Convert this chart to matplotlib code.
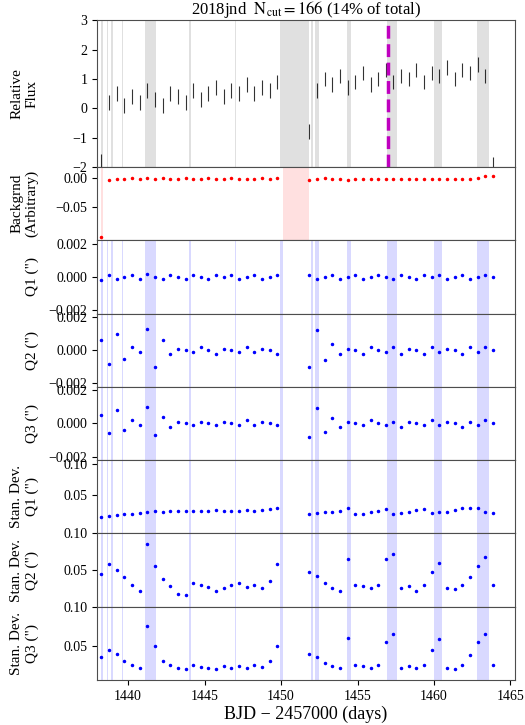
import numpy as np
import matplotlib
matplotlib.use("Agg")
import matplotlib.pyplot as plt

plt.rcParams['font.family'] = ['Liberation Serif', 'DejaVu Serif']
plt.rcParams['mathtext.fontset'] = 'stix'
plt.rcParams['font.size'] = 11

# times, half-day steps in each orbit
t1 = np.arange(1438.25, 1450.01, 0.5)
t2 = np.arange(1451.85, 1463.9, 0.5)

flux1 = [-1.8, 0.2, 0.5, 0.1, 0.4, 0.2, 0.6, 0.3, 0.1, 0.5, 0.4, 0.2,
         0.6, 0.3, 0.5, 0.7, 0.4, 0.6, 0.5, 0.8, 0.5, 0.7, 0.6, 0.9]
flux2 = [-0.8, 0.6, 1.0, 0.8, 1.1, 0.7, 0.9, 1.2, 0.8, 1.0, 1.3, 0.9,
         1.1, 1.0, 1.3, 0.9, 1.2, 1.1, 1.4, 1.0, 1.3, 1.2, 1.5, 1.1, -1.9]
bkg1 = [-0.100, -0.004, -0.002, -0.003, -0.001, -0.002, 0.000, -0.002, -0.001, -0.003, -0.002, -0.001,
        -0.002, -0.003, -0.001, -0.002, -0.003, -0.001, -0.002, -0.003, -0.002, -0.001, -0.002, -0.001]
bkg2 = [-0.004, -0.002, -0.001, -0.003, -0.002, -0.004, -0.003, -0.002, -0.003, -0.002, -0.003, -0.002,
        -0.003, -0.002, -0.003, -0.002, -0.003, -0.002, -0.003, -0.002, -0.003, -0.002, -0.001, 0.002, 0.003]
q1_1 = [-0.0002, 0.0001, -0.0001, 0.0000, 0.0001, -0.0001, 0.0002, 0.0000, -0.0001, 0.0001, 0.0000, -0.0001,
        0.0001, 0.0000, -0.0001, 0.0001, 0.0000, 0.0001, -0.0001, 0.0000, 0.0001, -0.0001, 0.0000, 0.0001]
q1_2 = [0.0001, -0.0001, 0.0000, 0.0001, -0.0001, 0.0000, 0.0001, -0.0001, 0.0000, 0.0001, 0.0000, -0.0001,
        0.0001, 0.0000, -0.0001, 0.0001, 0.0000, 0.0001, -0.0001, 0.0000, 0.0001, -0.0001, 0.0000, 0.0001, 0.0000]
q2_1 = [0.0006, -0.0008, 0.0010, -0.0005, 0.0002, -0.0001, 0.0013, -0.0010, 0.0006, -0.0002, 0.0001, 0.0000,
        -0.0001, 0.0002, 0.0000, -0.0002, 0.0001, 0.0000, -0.0001, 0.0002, -0.0001, 0.0001, 0.0000, -0.0002]
q2_2 = [-0.0010, 0.0012, -0.0006, 0.0004, -0.0002, 0.0001, 0.0000, -0.0002, 0.0002, 0.0000, -0.0001, 0.0002,
        -0.0002, 0.0001, 0.0000, -0.0002, 0.0002, -0.0001, 0.0001, 0.0000, -0.0002, 0.0002, -0.0001, 0.0002, 0.0000]
q3_1 = [0.0005, -0.0006, 0.0008, -0.0004, 0.0002, -0.0001, 0.0010, -0.0007, 0.0004, -0.0002, 0.0001, 0.0000,
        -0.0001, 0.0001, 0.0000, -0.0001, 0.0001, 0.0000, -0.0001, 0.0002, -0.0001, 0.0001, 0.0000, -0.0001]
q3_2 = [-0.0008, 0.0009, -0.0005, 0.0003, -0.0002, 0.0001, 0.0000, -0.0001, 0.0002, 0.0000, -0.0001, 0.0001,
        -0.0002, 0.0001, 0.0000, -0.0001, 0.0002, -0.0001, 0.0001, 0.0000, -0.0002, 0.0001, -0.0001, 0.0002, 0.0000]
sd1_1 = [0.014, 0.016, 0.017, 0.018, 0.019, 0.020, 0.022, 0.023, 0.022, 0.023, 0.024, 0.023,
         0.024, 0.023, 0.024, 0.025, 0.024, 0.023, 0.024, 0.025, 0.024, 0.025, 0.026, 0.029]
sd1_2 = [0.018, 0.020, 0.021, 0.022, 0.023, 0.028, 0.018, 0.019, 0.021, 0.024, 0.027, 0.019,
         0.020, 0.022, 0.025, 0.027, 0.020, 0.021, 0.022, 0.025, 0.028, 0.029, 0.028, 0.022, 0.020]
sd2_1 = [0.045, 0.058, 0.050, 0.040, 0.030, 0.022, 0.085, 0.055, 0.038, 0.028, 0.018, 0.016,
         0.032, 0.030, 0.027, 0.022, 0.025, 0.030, 0.032, 0.027, 0.030, 0.026, 0.035, 0.058]
sd2_2 = [0.048, 0.042, 0.032, 0.026, 0.022, 0.065, 0.030, 0.028, 0.025, 0.030, 0.065, 0.072,
         0.025, 0.028, 0.022, 0.030, 0.048, 0.060, 0.026, 0.024, 0.030, 0.040, 0.055, 0.068, 0.030]
sd3_1 = [0.035, 0.045, 0.040, 0.030, 0.025, 0.022, 0.075, 0.050, 0.030, 0.025, 0.022, 0.020,
         0.025, 0.023, 0.021, 0.020, 0.024, 0.022, 0.024, 0.022, 0.025, 0.023, 0.030, 0.050]
sd3_2 = [0.040, 0.035, 0.028, 0.024, 0.022, 0.060, 0.025, 0.024, 0.022, 0.025, 0.055, 0.065,
         0.022, 0.024, 0.021, 0.025, 0.045, 0.058, 0.022, 0.020, 0.025, 0.038, 0.055, 0.065, 0.025]

# cut intervals (days)
cuts = [(1438.2, 1438.35), (1438.6, 1438.7), (1438.9, 1439.0), (1439.6, 1439.65),
        (1441.1, 1441.8), (1444.0, 1444.12), (1447.0, 1447.04), (1449.9, 1450.1),
        (1451.95, 1452.1), (1452.25, 1452.5), (1454.3, 1454.6), (1456.9, 1457.6),
        (1460.0, 1460.55), (1462.8, 1463.6)]
gap = (1450.1, 1451.8)
t_peak = 1457.0

fig = plt.figure(figsize=(5.25, 7.25), dpi=100)
gs = fig.add_gridspec(8, 1, height_ratios=[2, 1, 1, 1, 1, 1, 1, 1], hspace=0,
                      left=0.185, right=0.981, top=0.972, bottom=0.062)
axes = [fig.add_subplot(gs[i]) for i in range(8)]
tt = np.concatenate([t1, t2])

ax = axes[0]
for a, b in cuts:
    ax.axvspan(a, b, color='0.6', alpha=0.3, lw=0)
ax.axvspan(*gap, color='0.6', alpha=0.3, lw=0)
ax.errorbar(tt, flux1 + flux2, yerr=0.25, fmt='none', ecolor='k', elinewidth=0.8, alpha=0.8)
ax.axvline(t_peak, color='m', ls='--', lw=2.5)
ax.set_ylim(-2, 3)
ax.set_ylabel('Relative\nFlux')
ax.set_title(r'2018jnd  $\mathrm{N_{cut}} = 166$ (14% of total)', fontsize=12, pad=1)

ax = axes[1]
for a, b in cuts[:1] + [(1443.1, 1443.12), (1463.6, 1463.62)]:
    ax.axvspan(a, b, color='red', alpha=0.12, lw=0)
ax.axvspan(*gap, color='red', alpha=0.12, lw=0)
ax.plot(tt, bkg1 + bkg2, '.', color='red', ms=3)
ax.set_ylim(-0.105, 0.018)
ax.set_yticks([0.0, -0.05])
ax.set_yticklabels(['0.00', '\u22120.05'])
ax.set_ylabel('Backgrnd\n(Arbitrary)')

series = [(q1_1 + q1_2, 'Q1 (")', (-0.0022, 0.0022)),
          (q2_1 + q2_2, 'Q2 (")', (-0.0022, 0.0022)),
          (q3_1 + q3_2, 'Q3 (")', (-0.0022, 0.0022)),
          (sd1_1 + sd1_2, 'Stan. Dev.\nQ1 (")', (-0.013, 0.106)),
          (sd2_1 + sd2_2, 'Stan. Dev.\nQ2 (")', (0.0, 0.10)),
          (sd3_1 + sd3_2, 'Stan. Dev.\nQ3 (")', (0.006, 0.10))]
for ax, (vals, lab, lim) in zip(axes[2:], series):
    for a, b in cuts:
        ax.axvspan(a, b, color='blue', alpha=0.15, lw=0)
    ax.plot(tt, vals, '.', color='blue', ms=3)
    ax.set_ylim(*lim)
    ax.set_ylabel(lab)
    if lim[0] < 0 and lim[1] < 0.01:
        ax.set_yticks([-0.002, 0.0, 0.002])
        ax.set_yticklabels(['\u22120.002', '0.000', '0.002'])
    else:
        ax.set_yticks([0.05, 0.10])
        ax.set_yticklabels(['0.05', '0.10'])

for ax in axes:
    ax.set_xlim(1437.97, 1465.3)
    ax.yaxis.set_label_coords(-0.14, 0.5)
    ax.tick_params(labelsize=10)
    for s in ax.spines.values():
        s.set_color('0.3')
for ax in axes[:-1]:
    ax.set_xticklabels([])
axes[-1].set_xticks([1440, 1445, 1450, 1455, 1460, 1465])
axes[-1].set_xlabel('BJD \u2212 2457000 (days)', fontsize=13, labelpad=2)

fig.savefig('out.png', dpi=100)
